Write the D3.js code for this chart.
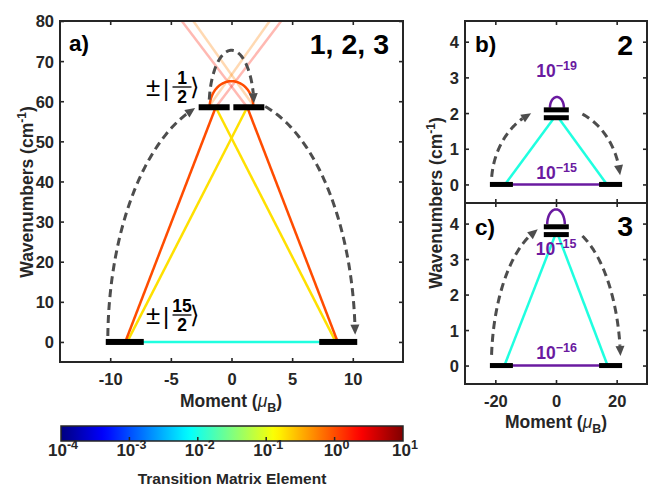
<!DOCTYPE html>
<html><head><meta charset="utf-8">
<script src="https://cdn.jsdelivr.net/npm/d3@7"></script>
<style>
body{margin:0;background:#fff}
svg{display:block}
text{font-family:"Liberation Sans",Arial,Helvetica,sans-serif;}
</style>
</head><body>
<svg id="chart" width="648" height="486"></svg>
<script>
// ---------------- DATA ----------------
const xTicksA = [-10, -5, 0, 5, 10];
const yTicksA = [0, 10, 20, 30, 40, 50, 60, 70, 80];
const xTicksBC = [-20, 0, 20];
const yTicksBC = [0, 1, 2, 3, 4];
const colorbarTicks = [-4, -3, -2, -1, 0, 1]; // log10 of matrix element

// Panel a: energy levels [moment (muB), wavenumber (cm-1)]
const levelsA = [[-8.8, 0], [8.8, 0], [-1.43, 58.5], [1.43, 58.5]];
// straight transitions [x1, y1, x2, y2, matrix element]
const transA = [
  [-8.8, 0, 8.8, 0, 0.0106],
  [-8.6, 0, 1.3, 58.5, 0.19],
  [8.6, 0, -1.3, 58.5, 0.19],
  [-8.76, 0, -1.3, 58.5, 1.0],
  [8.76, 0, 1.3, 58.5, 1.0]
];
// transitions to higher states (faded) [x1, y1, x2, y2, matrix element]
const fadedA = [
  [1.3, 58.5, -4.1, 80, 1.8],
  [-1.3, 58.5, 4.1, 80, 1.8],
  [1.9, 58.5, -3.15, 80, 0.55],
  [-1.9, 58.5, 3.15, 80, 0.55]
];
// arc transitions [cx, cy, rx, ry, matrix element]
const arcsA = [[0, 58.5, 1.8, 6.5, 1.0]];
// dashed arrows (elliptical) [cx, cy, rx, ry, startDeg, endDeg]
const arrowsA = [
  [0, 0, 10.2, 61, 178.6, 107.1],
  [0, 0, 10.2, 61, 74.2, 1.7],
  [0, 58.5, 1.85, 14.2, 172.3, 4]
];

// Panel b
const levelsB = [[-18, 0], [18, 0], [0.1, 2.09], [0.1, 1.87]];
const transB = [
  [-18, 0, 18, 0, 1e-15],
  [-16.8, 0, -0.6, 1.87, 0.0106],
  [16.8, 0, 0.8, 1.87, 0.0106]
];
const arcsB = [[0.3, 2.15, 2.3, 0.3, 1e-19]];
const arrowsB = [
  [0, 0, 21.3, 2.16, 174.4, 112.6],
  [0, 0, 21.3, 2.16, 65.9, 6.9]
];
const labelsB = [[0.2, 3.0, "−19"], [0.2, 0.16, "−15"]];

// Panel c
const levelsC = [[-18, 0], [18, 0], [0.1, 3.91], [0.1, 3.69]];
const transC = [
  [-18, 0, 18, 0, 1e-16],
  [-17, 0, -0.2, 3.69, 0.0106],
  [17, 0, 0.6, 3.69, 0.0106]
];
const arcsC = [[0, 3.98, 2.9, 0.42, 1e-15]];
const arrowsC = [
  [0, 0, 21.3, 4.0, 175.7, 106.4],
  [0, 0, 21.3, 4.0, 65.9, 3.9]
];
const labelsC = [[0.0, 3.12, "−15"], [0.2, 0.18, "−16"]];

// ---------------- STYLE / HELPERS ----------------
const svg = d3.select("#chart");
const frameColor = "#262626";
const underColor = "#6a1aa0";
const dashColor = "#4d4d4d";

function clamp(v){ return Math.max(0, Math.min(1, v)); }
function jet(t){
  const r = clamp(1.5 - Math.abs(4*t - 3));
  const g = clamp(1.5 - Math.abs(4*t - 2));
  const b = clamp(1.5 - Math.abs(4*t - 1));
  return d3.rgb(r*255, g*255, b*255).formatHex();
}
const cScale = d3.scaleLinear().domain([-4, 1]).range([0, 1]);
function valColor(v){
  const t = cScale(Math.log10(v));
  if (t < 0) return underColor;
  return jet(Math.min(1, t));
}

function drawAxes(g, x, y, xt, yt, showX, showY){
  const [x0, x1] = x.range();
  const [y0, y1] = y.range();
  const style = sel => {
    sel.select(".domain").remove();
    sel.selectAll(".tick line").attr("stroke", frameColor).attr("stroke-width", 1.6);
    sel.selectAll("text").attr("fill", frameColor).attr("font-size", 16.5).attr("font-weight", "bold")
      .style("font-family", '"Liberation Sans", Arial, sans-serif');
  };
  g.append("g").attr("transform", `translate(0,${y0})`)
    .call(d3.axisBottom(x).tickValues(xt).tickSizeInner(-4).tickSizeOuter(0)
      .tickFormat(showX ? (d => String(d)) : ""))
    .call(style)
    .call(s => s.selectAll("text").attr("y", 23).attr("dy", 0));
  g.append("g").attr("transform", `translate(0,${y1})`)
    .call(d3.axisTop(x).tickValues(xt).tickSizeInner(-4).tickSizeOuter(0).tickFormat(""))
    .call(style);
  g.append("g").attr("transform", `translate(${x0},0)`)
    .call(d3.axisLeft(y).tickValues(yt).tickSizeInner(-4).tickSizeOuter(0)
      .tickFormat(showY ? (d => String(d)) : ""))
    .call(style)
    .call(s => s.selectAll("text").attr("x", -6).attr("dy", "0.36em"));
  g.append("g").attr("transform", `translate(${x1},0)`)
    .call(d3.axisRight(y).tickValues(yt).tickSizeInner(-4).tickSizeOuter(0).tickFormat(""))
    .call(style);
  g.append("rect").attr("x", x0).attr("y", y1).attr("width", x1 - x0).attr("height", y0 - y1)
    .attr("fill", "none").attr("stroke", frameColor).attr("stroke-width", 2);
}

function ellipsePts(x, y, cx, cy, rx, ry, a0, a1){
  const n = 80, pts = [];
  for (let i = 0; i <= n; i++){
    const a = (a0 + (a1 - a0) * i / n) * Math.PI / 180;
    pts.push([x(cx + rx*Math.cos(a)), y(cy + ry*Math.sin(a))]);
  }
  return pts;
}

function drawArrow(g, x, y, arr, headLen, headW){
  const pts = ellipsePts(x, y, ...arr);
  const tip = pts[pts.length - 1];
  let k = pts.length - 1;
  while (k > 0 && Math.hypot(pts[k][0]-tip[0], pts[k][1]-tip[1]) < headLen) k--;
  const dx = tip[0] - pts[k][0], dy = tip[1] - pts[k][1];
  const L = Math.hypot(dx, dy), ux = dx/L, uy = dy/L;
  const base = [tip[0] - ux*headLen, tip[1] - uy*headLen];
  const linePts = pts.slice(0, k + 1).concat([base]);
  g.append("path").attr("d", d3.line()(linePts)).attr("fill", "none")
    .attr("stroke", dashColor).attr("stroke-width", 3).attr("stroke-dasharray", "8,5");
  const px = -uy, py = ux;
  g.append("path").attr("d", d3.line()([tip, [base[0]+px*headW, base[1]+py*headW], [base[0]-px*headW, base[1]-py*headW]]) + "Z")
    .attr("fill", dashColor);
}

function drawTrans(g, x, y, list, width, opacity){
  g.selectAll(null).data(list).enter().append("line")
    .attr("x1", d => x(d[0])).attr("y1", d => y(d[1]))
    .attr("x2", d => x(d[2])).attr("y2", d => y(d[3]))
    .attr("stroke", d => valColor(d[4])).attr("stroke-width", width)
    .attr("stroke-opacity", opacity);
}
function drawArcs(g, x, y, list, width){
  list.forEach(d => {
    const pts = ellipsePts(x, y, d[0], d[1], d[2], d[3], 180, 0);
    g.append("path").attr("d", d3.line()(pts)).attr("fill", "none")
      .attr("stroke", valColor(d[4])).attr("stroke-width", width);
  });
}
function drawLevels(g, x, y, list, w, h){
  g.selectAll(null).data(list).enter().append("rect")
    .attr("x", d => x(d[0]) - w/2).attr("y", d => y(d[1]) - h/2)
    .attr("width", w).attr("height", h).attr("fill", "#000");
}
function powText(g, px, py, base, exp, color, size, supSize, rise){
  const t = g.append("text").attr("x", px).attr("y", py).attr("text-anchor", "middle")
    .attr("font-weight", "bold").attr("font-size", size).attr("fill", color);
  t.append("tspan").text(base);
  t.append("tspan").attr("font-size", supSize).attr("dy", -rise).text(exp);
  return t;
}

// ---------------- PANEL A ----------------
const xa = d3.scaleLinear().domain([-14.14, 14.14]).range([60, 403]);
const ya = d3.scaleLinear().domain([-5, 80]).range([362, 21]);
const ga = svg.append("g");
ga.append("clipPath").attr("id", "clipA").append("rect")
  .attr("x", 60).attr("y", 21).attr("width", 343).attr("height", 341);
const pa = ga.append("g").attr("clip-path", "url(#clipA)");
drawTrans(pa, xa, ya, fadedA, 2.5, 0.3);
drawTrans(pa, xa, ya, transA, 2.5, 1);
drawArcs(pa, xa, ya, arcsA, 2.5);
drawLevels(pa, xa, ya, levelsA.filter(d => d[1] === 0), 38, 6);
drawLevels(pa, xa, ya, levelsA.filter(d => d[1] > 0), 31, 6);
arrowsA.forEach(a => drawArrow(pa, xa, ya, a, 10, 4.5));

// state labels
function ketLabel(g, x0, yc, num, den){
  g.append("text").attr("x", x0).attr("y", yc + 9).attr("font-size", 26).text("±");
  g.append("text").attr("x", x0 + 17).attr("y", yc + 9).attr("font-size", 24).text("|");
  const fx = x0 + 36;
  g.append("text").attr("x", fx).attr("y", yc - 3.5).attr("text-anchor", "middle")
    .attr("font-size", 17.5).attr("font-weight", "bold").text(num);
  g.append("line").attr("x1", fx - 9.5).attr("x2", fx + 9.5).attr("y1", yc).attr("y2", yc)
    .attr("stroke", "#000").attr("stroke-width", 1.3);
  g.append("text").attr("x", fx).attr("y", yc + 15.5).attr("text-anchor", "middle")
    .attr("font-size", 17.5).attr("font-weight", "bold").text(den);
  g.append("text").attr("x", fx + 8).attr("y", yc + 8).attr("font-size", 24)
    .style("font-family", '"DejaVu Sans", sans-serif').text("⟩");
}
ketLabel(ga, 146, 87, "1", "2");
ketLabel(ga, 146, 315, "15", "2");

ga.append("text").attr("x", 69).attr("y", 51).attr("font-size", 22.5).attr("font-weight", "bold").text("a)");
ga.append("text").attr("x", 389).attr("y", 54).attr("text-anchor", "end").attr("font-size", 28.5)
  .attr("font-weight", "bold").text("1, 2, 3");

drawAxes(ga, xa, ya, xTicksA, yTicksA, true, true);

function momentLabel(g, cx, by){
  const t = g.append("text").attr("x", cx).attr("y", by).attr("text-anchor", "middle")
    .attr("font-size", 17.5).attr("font-weight", "bold").attr("fill", frameColor);
  t.append("tspan").text("Moment (");
  t.append("tspan").attr("font-style", "italic").attr("font-weight", "normal").text("μ");
  t.append("tspan").attr("font-size", 12.5).attr("dy", 5).text("B");
  t.append("tspan").attr("dy", -5).text(")");
}
function wnLabel(g, bx, cy){
  const t = g.append("text").attr("transform", `translate(${bx},${cy}) rotate(-90)`)
    .attr("text-anchor", "middle").attr("font-size", 17.5).attr("font-weight", "bold").attr("fill", frameColor);
  t.append("tspan").text("Wavenumbers (cm");
  t.append("tspan").attr("font-size", 12).attr("dy", -7).text("-1");
  t.append("tspan").attr("dy", 7).text(")");
}
momentLabel(ga, 231, 407);
wnLabel(ga, 33, 192);

// ---------------- PANEL B ----------------
const xb = d3.scaleLinear().domain([-30, 30]).range([465, 647]);
const yb = d3.scaleLinear().domain([-0.52, 4.58]).range([203, 21]);
const gb = svg.append("g");
drawTrans(gb, xb, yb, transB, 2.5, 1);
drawArcs(gb, xb, yb, arcsB, 2.5);
drawLevels(gb, xb, yb, levelsB.filter(d => d[1] === 0), 23, 5);
drawLevels(gb, xb, yb, levelsB.filter(d => d[1] > 0), 25, 5);
arrowsB.forEach(a => drawArrow(gb, xb, yb, a, 10, 4.5));
labelsB.forEach(d => powText(gb, xb(d[0]), yb(d[1]), "10", d[2], underColor, 17.5, 12.5, 7));
gb.append("text").attr("x", 475).attr("y", 52).attr("font-size", 22.5).attr("font-weight", "bold").text("b)");
gb.append("text").attr("x", 633).attr("y", 55).attr("text-anchor", "end").attr("font-size", 28.5)
  .attr("font-weight", "bold").text("2");
drawAxes(gb, xb, yb, xTicksBC, yTicksBC, false, true);

// ---------------- PANEL C ----------------
const xc = d3.scaleLinear().domain([-30, 30]).range([465, 647]);
const yc = d3.scaleLinear().domain([-0.52, 4.58]).range([384, 203]);
const gc = svg.append("g");
drawTrans(gc, xc, yc, transC, 2.5, 1);
drawArcs(gc, xc, yc, arcsC, 2.5);
drawLevels(gc, xc, yc, levelsC.filter(d => d[1] === 0), 23, 5);
drawLevels(gc, xc, yc, levelsC.filter(d => d[1] > 0), 25, 5);
arrowsC.forEach(a => drawArrow(gc, xc, yc, a, 10, 4.5));
labelsC.forEach(d => powText(gc, xc(d[0]), yc(d[1]), "10", d[2], underColor, 17.5, 12.5, 7));
gc.append("text").attr("x", 475).attr("y", 235).attr("font-size", 22.5).attr("font-weight", "bold").text("c)");
gc.append("text").attr("x", 633).attr("y", 236).attr("text-anchor", "end").attr("font-size", 28.5)
  .attr("font-weight", "bold").text("3");
drawAxes(gc, xc, yc, xTicksBC, yTicksBC, true, true);
momentLabel(gc, 556, 428);
wnLabel(svg, 442, 203);

// ---------------- COLORBAR ----------------
const xcb = d3.scaleLinear().domain([-4, 1]).range([61, 403]);
const defs = svg.append("defs");
const grad = defs.append("linearGradient").attr("id", "jetGrad");
d3.range(0, 1.0001, 0.02).forEach(t => grad.append("stop")
  .attr("offset", (t*100) + "%").attr("stop-color", jet(t)));
const cb = svg.append("g");
cb.append("rect").attr("x", 61).attr("y", 426).attr("width", 342).attr("height", 15)
  .attr("fill", "url(#jetGrad)").attr("stroke", frameColor).attr("stroke-width", 1.5);
cb.selectAll(null).data(colorbarTicks.slice(1, -1)).enter().append("line")
  .attr("x1", d => xcb(d)).attr("x2", d => xcb(d)).attr("y1", 441).attr("y2", 437)
  .attr("stroke", frameColor).attr("stroke-width", 1.5);
colorbarTicks.forEach(d => powText(cb, xcb(d) + 2, 456, "10", String(d), frameColor, 17, 12.5, 7));
cb.append("text").attr("x", 232).attr("y", 484).attr("text-anchor", "middle").attr("font-size", 15.5)
  .attr("font-weight", "bold").attr("fill", frameColor).text("Transition Matrix Element");
</script>
</body></html>
